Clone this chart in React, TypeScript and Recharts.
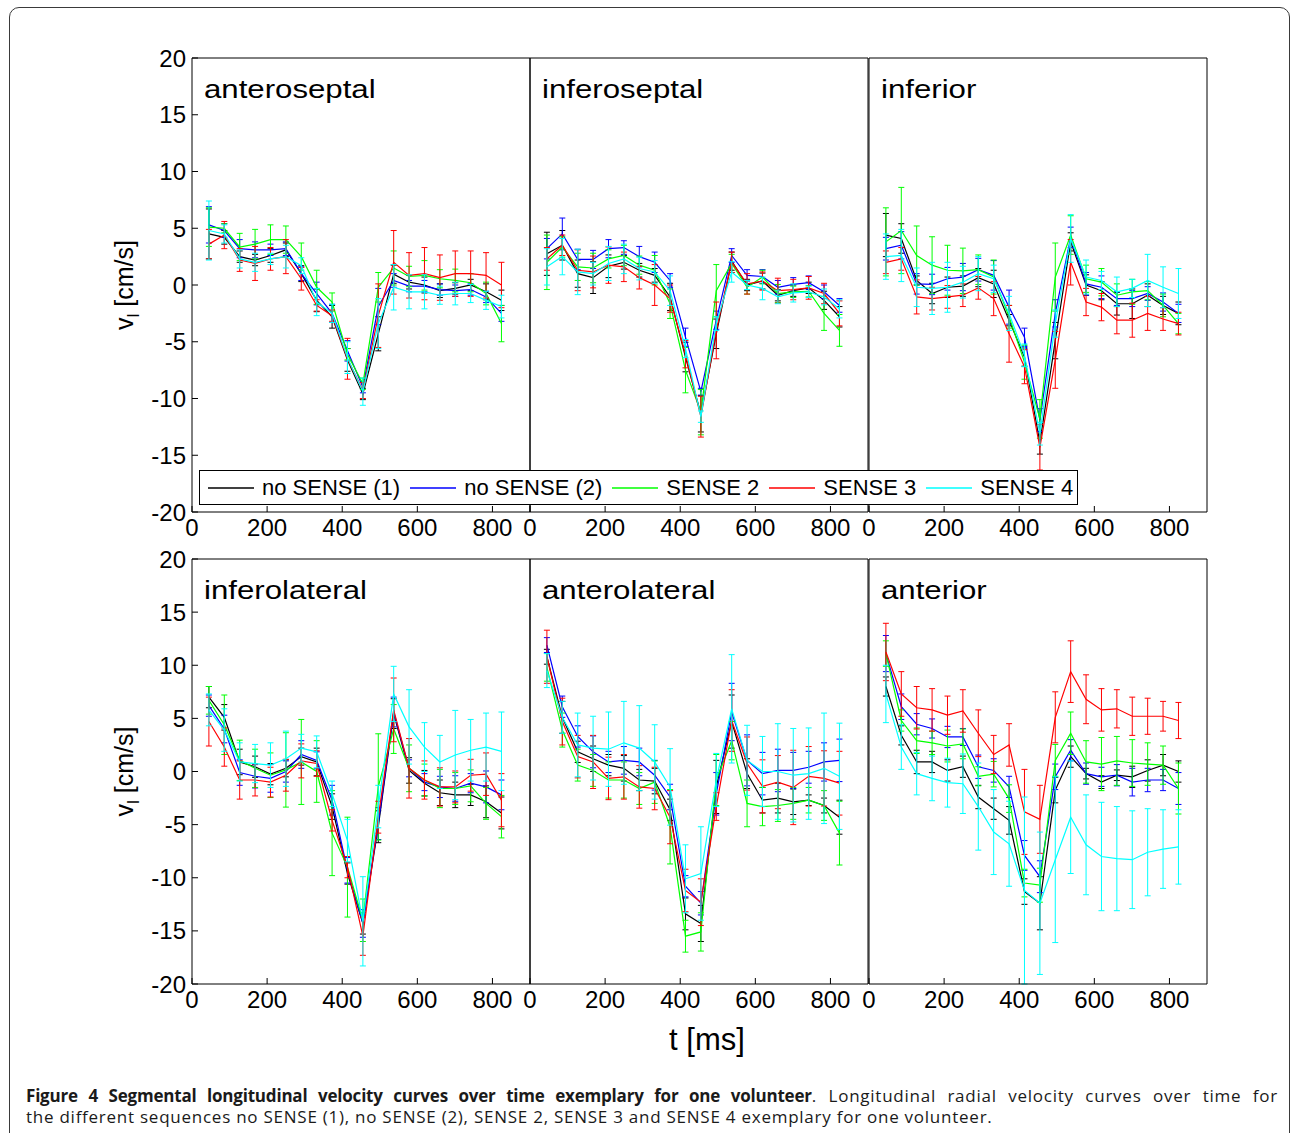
import { LineChart, Line, XAxis, YAxis, ErrorBar } from "recharts";

// sample times (ms), shared by all segments
const TIMES = [45, 86, 127, 168, 209, 250, 291, 332, 373, 414, 455, 496, 537, 578, 619, 660, 701, 742, 783, 824];

const SERIES = [
  { key: "ns1", name: "no SENSE (1)", color: "#000000" },
  { key: "ns2", name: "no SENSE (2)", color: "#0000ff" },
  { key: "s2", name: "SENSE 2", color: "#00ff00" },
  { key: "s3", name: "SENSE 3", color: "#ff0000" },
  { key: "s4", name: "SENSE 4", color: "#00ffff" },
];

const X_TICKS = [0, 200, 400, 600, 800];
const Y_TICKS = [-20, -15, -10, -5, 0, 5, 10, 15, 20];

// --- anteroseptal ---
const anteroseptalMean = {
  ns1: [4.5, 4.2, 2.5, 2.2, 2.6, 3.1, 1.0, -1.35, -2.8, -6.6, -9.6, -4.3, 0.95, 0.25, 0.0, -0.5, -0.3, 0.0, -0.6, -1.35],
  ns2: [5.3, 4.8, 3.2, 3.1, 3.1, 3.2, 1.0, -0.75, -2.5, -5.8, -9.0, -1.9, 0.4, -0.1, -0.1, -0.4, -0.5, -0.4, -1.05, -2.5],
  s2: [5.1, 5.0, 3.35, 3.6, 4.0, 4.0, 2.5, -0.2, -1.5, -6.1, -8.7, -0.2, 1.5, 0.75, 0.85, 0.55, 0.4, 0.2, -0.75, -3.4],
  s3: [3.6, 4.4, 2.2, 1.9, 2.3, 2.5, 0.55, -1.8, -2.7, -6.5, -9.3, -2.7, 2.0, 0.85, 1.0, 0.65, 1.0, 1.0, 0.85, 0.0],
  s4: [4.8, 4.5, 2.3, 2.0, 2.3, 2.5, 1.7, -1.5, -2.5, -6.4, -9.4, -3.4, -0.2, -0.6, -0.6, -0.9, -0.75, -0.75, -1.35, -1.9],
};
const anteroseptalErr = {
  ns1: [2.2, 0.6, 0.5, 0.5, 0.6, 0.6, 0.7, 1.0, 1.0, 1.0, 0.5, 1.5, 0.8, 0.6, 0.7, 0.6, 0.5, 0.5, 0.7, 0.9],
  ns2: [1.6, 0.6, 0.8, 0.7, 0.5, 0.6, 0.6, 1.0, 0.8, 0.9, 0.5, 1.6, 0.6, 0.5, 0.5, 0.5, 0.5, 0.5, 0.5, 0.7],
  s2: [1.7, 0.4, 1.2, 1.3, 1.3, 1.2, 1.2, 1.5, 0.8, 0.5, 0.5, 1.3, 1.5, 0.9, 1.3, 0.8, 1.0, 0.8, 1.0, 1.6],
  s3: [1.3, 1.2, 1.0, 1.5, 1.0, 1.5, 1.0, 0.5, 0.5, 1.8, 0.7, 2.8, 2.8, 2.0, 2.3, 2.0, 2.0, 2.0, 2.0, 2.0],
  s4: [2.6, 0.8, 0.8, 0.8, 0.5, 1.0, 0.7, 1.2, 0.8, 1.4, 1.2, 2.2, 2.0, 1.5, 1.5, 0.8, 1.0, 0.8, 0.8, 1.0],
};

// --- inferoseptal ---
const inferoseptalMean = {
  ns1: [2.75, 3.5, 1.0, 0.65, 1.65, 2.0, 1.3, 0.85, -1.05, -6.35, -11.35, -4.3, 2.1, 0.0, 0.35, -0.9, -0.5, -0.25, -1.35, -2.8],
  ns2: [3.2, 4.5, 2.25, 2.25, 3.2, 3.3, 2.5, 2.0, 0.4, -4.6, -9.4, -3.1, 2.6, 0.85, 0.75, -0.2, 0.05, 0.2, -0.6, -1.8],
  s2: [2.0, 3.35, 1.6, 1.5, 2.3, 2.6, 1.75, 1.3, -1.65, -7.5, -11.2, -0.5, 1.9, -0.2, 0.7, -0.75, -0.6, -0.55, -2.5, -4.0],
  s3: [2.3, 3.5, 1.3, 1.15, 1.75, 1.6, 0.65, 0.0, -1.2, -6.1, -11.6, -4.0, 2.0, 0.1, 0.35, -0.5, -0.4, -0.25, -0.75, -2.5],
  s4: [1.6, 2.5, 1.15, 1.0, 1.9, 2.3, 1.45, 1.15, -0.5, -5.6, -11.6, -3.4, 1.15, 0.0, -0.3, -1.05, -0.7, -0.6, -1.05, -2.1],
};
const inferoseptalErr = {
  ns1: [1.9, 1.3, 1.2, 1.4, 1.0, 0.6, 0.6, 0.6, 1.2, 1.3, 1.6, 1.3, 0.8, 0.5, 0.7, 0.5, 0.5, 0.5, 0.8, 0.9],
  ns2: [0.9, 1.4, 0.9, 0.8, 0.8, 0.6, 0.9, 0.9, 0.6, 0.8, 0.3, 0.8, 0.6, 0.5, 0.6, 0.6, 0.6, 0.6, 0.6, 0.6],
  s2: [2.4, 0.9, 1.2, 1.3, 0.8, 0.9, 0.8, 1.3, 1.3, 2.0, 2.0, 2.3, 0.8, 0.6, 0.6, 0.8, 0.5, 0.5, 1.5, 1.4],
  s3: [1.0, 0.9, 1.8, 1.4, 1.6, 1.3, 1.0, 1.8, 1.2, 1.2, 1.8, 2.5, 0.9, 0.9, 0.8, 1.1, 0.9, 1.0, 0.9, 1.1],
  s4: [1.6, 1.6, 2.0, 1.0, 1.5, 1.3, 1.0, 1.0, 1.3, 0.8, 0.5, 0.6, 0.9, 0.4, 1.0, 0.6, 0.8, 0.5, 0.7, 0.8],
};

// --- inferior ---
const inferiorMean = {
  ns1: [4.4, 4.1, 0.4, -0.75, -0.2, -0.1, 0.65, 0.1, -3.1, -6.35, -13.9, -4.9, 3.8, 0.0, -0.5, -1.65, -1.65, -0.9, -1.8, -2.5],
  ns2: [3.2, 3.5, 0.1, 0.05, 0.55, 0.7, 1.35, 0.85, -1.95, -4.6, -11.9, -2.5, 4.2, 0.1, -0.2, -1.2, -1.2, -0.75, -1.5, -2.5],
  s2: [3.8, 4.8, 2.6, 1.75, 1.3, 1.25, 1.35, 0.7, -2.8, -6.8, -11.8, 0.7, 4.4, 0.55, 0.25, -0.9, -0.6, -0.5, -1.8, -3.4],
  s3: [2.0, 2.3, -1.05, -1.2, -1.05, -0.9, -0.25, -1.2, -4.3, -7.2, -14.3, -6.6, 2.0, -1.5, -1.95, -3.1, -3.1, -2.5, -3.0, -3.4],
  s4: [2.5, 2.6, -0.2, -0.3, -0.2, 0.25, 1.0, 0.55, -2.5, -6.2, -13.1, -3.4, 4.1, 0.7, 0.4, -0.6, -0.3, 0.4, -0.2, -0.75],
};
const inferiorErr = {
  ns1: [1.9, 1.3, 0.4, 0.9, 0.9, 0.9, 0.8, 1.2, 0.5, 0.8, 1.0, 1.6, 0.8, 0.9, 0.8, 1.0, 1.3, 1.0, 0.8, 1.0],
  ns2: [1.0, 1.2, 0.9, 0.9, 1.0, 1.2, 1.0, 1.3, 1.5, 0.8, 1.0, 1.2, 0.9, 1.0, 1.0, 0.6, 0.7, 0.6, 0.8, 0.8],
  s2: [3.0, 3.8, 2.6, 2.5, 2.2, 2.0, 1.3, 1.5, 1.0, 1.5, 1.7, 3.0, 1.7, 1.2, 1.2, 1.0, 1.1, 0.8, 1.0, 0.9],
  s3: [1.0, 1.0, 1.5, 1.0, 1.0, 1.0, 1.0, 1.5, 2.5, 1.5, 2.0, 2.5, 2.0, 1.2, 1.2, 1.2, 1.5, 1.5, 1.0, 1.0],
  s4: [2.0, 2.3, 1.7, 2.3, 2.2, 1.4, 1.5, 1.2, 1.5, 1.0, 1.0, 1.2, 2.1, 1.5, 0.8, 1.3, 0.8, 2.3, 1.8, 2.2],
};

// --- inferolateral ---
const inferolateralMean = {
  ns1: [7.0, 5.1, 0.9, 0.45, -0.25, 0.3, 1.4, 0.9, -3.3, -9.6, -14.3, -5.2, 5.45, 0.1, -1.1, -2.0, -2.2, -2.2, -2.85, -3.9],
  ns2: [6.2, 4.0, -0.1, -0.45, -0.65, 0.0, 1.6, 1.05, -2.7, -9.3, -14.3, -4.9, 5.6, 0.3, -1.0, -1.45, -1.6, -1.1, -1.45, -2.2],
  s2: [6.7, 4.4, 1.05, 0.3, -0.35, 0.15, 0.9, 0.0, -5.8, -9.0, -14.0, -1.45, 4.0, 0.3, -0.8, -1.6, -1.6, -1.35, -3.0, -4.25],
  s3: [4.7, 2.3, -0.8, -0.8, -1.0, -0.35, 1.0, 0.75, -4.6, -9.0, -15.5, -4.3, 5.8, 0.3, -0.8, -1.45, -1.45, -0.35, -0.25, -2.7],
  s4: [5.8, 3.9, 0.9, 0.75, 0.6, 1.2, 2.2, 1.85, -2.1, -6.5, -14.1, -3.3, 7.3, 4.2, 2.3, 0.9, 1.55, 2.0, 2.3, 1.9],
};
const inferolateralErr = {
  ns1: [1.0, 1.2, 1.2, 1.0, 1.0, 0.8, 0.8, 1.3, 1.2, 1.0, 1.0, 1.5, 1.4, 1.2, 1.2, 1.2, 1.2, 1.0, 1.5, 1.5],
  ns2: [1.0, 1.3, 1.2, 1.1, 1.3, 1.0, 1.3, 0.8, 1.4, 1.2, 1.3, 1.5, 1.4, 0.8, 0.8, 1.0, 1.2, 0.9, 1.5, 1.4],
  s2: [1.3, 2.8, 1.9, 1.8, 2.1, 3.5, 4.0, 2.9, 4.0, 4.7, 2.0, 5.0, 2.3, 2.2, 1.5, 1.8, 1.5, 1.5, 1.5, 2.0],
  s3: [2.3, 1.8, 1.8, 1.5, 1.4, 1.5, 1.6, 1.2, 1.0, 1.0, 1.8, 1.5, 3.0, 2.8, 1.8, 1.8, 1.5, 1.5, 2.0, 2.5],
  s4: [1.5, 2.0, 1.8, 1.8, 2.1, 2.6, 1.3, 1.5, 1.2, 2.0, 4.2, 2.0, 2.6, 3.5, 2.3, 2.5, 4.2, 2.9, 3.2, 3.7],
};

// --- anterolateral ---
const anterolateralMean = {
  ns1: [10.8, 5.1, 1.85, 1.2, 0.6, 0.3, -0.8, -0.9, -3.6, -13.4, -14.3, -1.45, 4.7, -0.2, -2.7, -2.5, -2.85, -2.7, -3.2, -4.3],
  ns2: [11.9, 6.1, 3.3, 1.85, 0.9, 1.05, 0.9, -0.35, -2.4, -10.8, -12.4, -2.1, 5.6, 1.05, -0.2, 0.1, 0.1, 0.4, 0.9, 1.05],
  s2: [9.8, 3.9, 0.6, 0.1, -0.8, -0.8, -1.6, -1.0, -5.2, -15.5, -15.1, -0.8, 2.9, -3.0, -3.3, -3.2, -3.0, -2.7, -3.2, -5.8],
  s3: [10.8, 4.7, 1.4, 0.9, -0.65, -0.5, -1.45, -1.6, -4.3, -11.2, -12.3, -3.3, 4.8, 0.75, -1.4, -1.0, -1.5, -0.45, -0.65, -1.1],
  s4: [9.5, 5.1, 2.5, 2.2, 2.1, 2.7, 2.2, 0.9, -1.45, -10.1, -9.6, -0.8, 5.9, 1.05, 0.0, 0.0, -0.35, -0.2, 0.3, -0.45],
};
const anterolateralErr = {
  ns1: [0.7, 1.5, 1.0, 1.2, 1.0, 1.2, 1.0, 1.2, 1.0, 1.5, 1.7, 2.5, 2.5, 1.4, 1.2, 1.4, 1.2, 0.5, 0.7, 1.6],
  ns2: [0.7, 1.0, 1.0, 1.5, 1.0, 1.3, 1.3, 1.4, 1.2, 1.0, 1.1, 2.0, 2.7, 2.4, 2.0, 2.0, 1.7, 1.5, 1.8, 2.0],
  s2: [1.3, 1.6, 1.5, 1.5, 1.7, 1.7, 1.5, 2.0, 3.5, 1.5, 1.8, 2.4, 1.8, 2.2, 1.8, 1.5, 1.5, 1.2, 1.4, 3.0],
  s3: [2.5, 2.2, 2.0, 2.5, 2.0, 2.1, 2.0, 2.0, 2.5, 2.0, 2.2, 1.3, 2.9, 2.5, 2.5, 2.5, 3.5, 2.8, 2.6, 3.0],
  s4: [1.6, 1.5, 3.0, 3.0, 3.5, 3.9, 4.0, 3.5, 3.6, 3.2, 4.4, 2.5, 5.1, 3.3, 3.3, 4.5, 4.4, 4.3, 5.2, 5.0],
};

// --- anterior ---
const anteriorMean = {
  ns1: [8.0, 3.4, 0.9, 0.9, 0.1, 0.45, -2.4, -3.5, -4.6, -11.3, -12.4, -1.75, 1.4, -0.2, -1.0, -0.35, -0.5, 0.1, 0.6, 0.0],
  ns2: [11.1, 6.1, 4.45, 4.05, 3.25, 3.25, 0.45, 0.1, -1.45, -7.9, -9.9, -0.5, 2.0, -0.2, -0.5, -0.35, -1.0, -0.8, -0.8, -1.6],
  s2: [11.1, 4.8, 2.9, 2.7, 2.4, 2.6, -0.45, -0.25, -2.55, -10.5, -10.7, 1.05, 3.6, 0.9, 0.7, 1.0, 0.8, 0.7, 0.6, -1.6],
  s3: [11.25, 7.3, 6.0, 5.8, 5.3, 5.7, 3.6, 1.6, 2.5, -3.8, -4.5, 5.1, 9.4, 6.8, 5.8, 5.9, 5.2, 5.2, 5.2, 4.8],
  s4: [7.3, 2.3, -0.2, -0.65, -1.05, -1.15, -3.3, -5.7, -6.8, -11.2, -12.4, -8.3, -4.3, -6.9, -8.0, -8.2, -8.3, -7.6, -7.3, -7.1],
};
const anteriorErr = {
  ns1: [0.9, 0.9, 1.1, 1.0, 1.0, 1.0, 1.1, 1.0, 1.3, 1.2, 2.5, 1.2, 1.0, 0.5, 0.6, 0.5, 1.0, 1.0, 1.0, 1.0],
  ns2: [1.7, 1.2, 1.0, 0.9, 1.0, 0.8, 1.1, 1.1, 1.0, 1.4, 1.5, 1.2, 1.0, 1.0, 0.9, 1.0, 1.3, 1.1, 1.0, 1.5],
  s2: [1.2, 1.0, 1.2, 1.1, 1.5, 1.4, 0.9, 1.2, 1.3, 1.3, 1.6, 1.5, 2.0, 2.0, 2.5, 2.3, 2.2, 2.0, 1.8, 2.4],
  s3: [2.7, 2.1, 2.0, 2.0, 1.8, 2.0, 2.2, 1.8, 2.0, 4.0, 3.2, 2.4, 2.9, 2.3, 2.0, 1.8, 1.8, 1.7, 1.4, 1.7],
  s4: [2.7, 2.1, 2.0, 2.1, 2.3, 2.8, 4.1, 4.0, 4.0, 8.8, 6.7, 7.8, 5.3, 4.7, 5.1, 4.9, 4.6, 4.1, 3.7, 3.5],
};

type SeriesValues = Record<string, number[]>;

const PANELS = [
  { title: "anteroseptal", mean: anteroseptalMean, err: anteroseptalErr },
  { title: "inferoseptal", mean: inferoseptalMean, err: inferoseptalErr },
  { title: "inferior", mean: inferiorMean, err: inferiorErr },
  { title: "inferolateral", mean: inferolateralMean, err: inferolateralErr },
  { title: "anterolateral", mean: anterolateralMean, err: anterolateralErr },
  { title: "anterior", mean: anteriorMean, err: anteriorErr },
];

// layout (px) of the plot boxes
const COL_LEFT = [192, 530, 869];
const ROW_TOP = [58, 559];
const ROW_HEIGHT = [454, 425];
const PLOT_W = 338;
const ML = 80; // left y-axis width
const MR = 10;
const MT = 20;
const MB = 50; // bottom x-axis height
const EDGE = 1; // size of the label-less top / right axes

const FONT = '"Liberation Sans", Arial, Helvetica, sans-serif';
const tickStyle = { fontSize: 24, fill: "#000", fontFamily: FONT };

interface PanelProps {
  mean: SeriesValues;
  err: SeriesValues;
  left: number;
  top: number;
  height: number;
  showY: boolean;
}

function Panel({ mean, err, left, top, height, showY }: PanelProps) {
  const data = TIMES.map((t, i) => {
    const row: Record<string, number> = { t };
    SERIES.forEach((s) => {
      row[s.key] = mean[s.key][i];
      row[s.key + "Err"] = err[s.key][i];
    });
    return row;
  });

  return (
    <div style={{ position: "absolute", left: left - ML, top: top - MT }}>
      <LineChart
        width={PLOT_W + ML + MR}
        height={height + MT + MB}
        data={data}
        margin={{ top: MT - EDGE, right: MR - EDGE, bottom: 0, left: 0 }}
      >
        <XAxis
          xAxisId="b"
          dataKey="t"
          type="number"
          domain={[0, 900]}
          ticks={X_TICKS}
          interval={0}
          height={MB}
          tickSize={-6}
          tickMargin={13}
          tick={tickStyle}
          stroke="#000"
          allowDataOverflow
        />
        <XAxis
          xAxisId="top"
          dataKey="t"
          orientation="top"
          type="number"
          domain={[0, 900]}
          ticks={X_TICKS}
          interval={0}
          height={EDGE}
          tickSize={-6}
          tick={false}
          stroke="#000"
          allowDataOverflow
        />
        <YAxis
          yAxisId="l"
          type="number"
          domain={[-20, 20]}
          ticks={Y_TICKS}
          interval={0}
          width={ML}
          tickSize={-6}
          tickMargin={12}
          tick={showY ? tickStyle : false}
          stroke="#000"
          allowDataOverflow
        />
        <YAxis
          yAxisId="r"
          orientation="right"
          type="number"
          domain={[-20, 20]}
          ticks={Y_TICKS}
          interval={0}
          width={EDGE}
          tickSize={-6}
          tick={false}
          stroke="#000"
          allowDataOverflow
        />
        {/* invisible series so the top / right axes are laid out */}
        <Line
          xAxisId="top"
          yAxisId="r"
          dataKey="ns1"
          stroke="none"
          dot={false}
          activeDot={false}
          legendType="none"
          isAnimationActive={false}
        />
        {SERIES.map((s) => (
          <Line
            key={s.key}
            xAxisId="b"
            yAxisId="l"
            type="linear"
            dataKey={s.key}
            stroke={s.color}
            strokeWidth={1.2}
            dot={false}
            isAnimationActive={false}
          >
            <ErrorBar
              dataKey={s.key + "Err"}
              direction="y"
              width={3}
              stroke={s.color}
              strokeWidth={1}
              isAnimationActive={false}
            />
          </Line>
        ))}
      </LineChart>
    </div>
  );
}

function Legend() {
  return (
    <div
      style={{
        position: "absolute",
        left: 199,
        top: 470,
        width: 879,
        height: 35,
        boxSizing: "border-box",
        border: "1px solid #000",
        background: "#fff",
        display: "flex",
        alignItems: "center",
        paddingLeft: 8,
        fontFamily: FONT,
        fontSize: 22,
        color: "#000",
      }}
    >
      {SERIES.map((s) => (
        <div key={s.key} style={{ display: "flex", alignItems: "center", marginRight: 10 }}>
          <svg width={46} height={4} style={{ marginRight: 8, display: "block" }}>
            <line x1={0} y1={2} x2={46} y2={2} stroke={s.color} strokeWidth={1.5} />
          </svg>
          <span style={{ whiteSpace: "nowrap", lineHeight: "24px" }}>{s.name}</span>
        </div>
      ))}
    </div>
  );
}

export default function App() {
  return (
    <div
      style={{
        position: "absolute",
        left: 0,
        top: 0,
        width: 1290,
        height: 1133,
        overflow: "hidden",
        background: "#fff",
      }}
    >
      {/* outer frame */}
      <div
        style={{
          position: "absolute",
          left: 9,
          top: 7,
          width: 1281,
          height: 1200,
          boxSizing: "border-box",
          border: "1.5px solid #3a3a3a",
          borderRadius: 10,
        }}
      />

      {PANELS.map((p, i) => {
        const col = i % 3;
        const row = Math.floor(i / 3);
        return (
          <Panel
            key={p.title}
            mean={p.mean}
            err={p.err}
            left={COL_LEFT[col]}
            top={ROW_TOP[row]}
            height={ROW_HEIGHT[row]}
            showY={col === 0}
          />
        );
      })}

      {/* titles and axis labels */}
      <svg
        width={1290}
        height={1133}
        style={{ position: "absolute", left: 0, top: 0, pointerEvents: "none" }}
        fontFamily={FONT}
        fill="#000"
      >
        {PANELS.map((p, i) => {
          const col = i % 3;
          const row = Math.floor(i / 3);
          const x = COL_LEFT[col] + 12;
          const y = ROW_TOP[row] + 40;
          return (
            <text key={p.title} fontSize={26} transform={`translate(${x},${y}) scale(1.2,1)`}>
              {p.title}
            </text>
          );
        })}
        {ROW_TOP.map((t, r) => (
          <text
            key={r}
            fontSize={25}
            textAnchor="middle"
            transform={`translate(133,${t + ROW_HEIGHT[r] / 2}) rotate(-90)`}
          >
            v
            <tspan fontSize={17} dy={6}>l</tspan>
            <tspan dy={-6}> [cm/s]</tspan>
          </text>
        ))}
        <text x={707} y={1050} fontSize={31} textAnchor="middle">
          t [ms]
        </text>
      </svg>

      <Legend />

      {/* caption */}
      <div
        style={{
          position: "absolute",
          left: 26,
          top: 1085,
          width: 1252,
          fontFamily: '"Open Sans", sans-serif',
          fontSize: 17,
          lineHeight: "21px",
          color: "#1a1a1a",
        }}
      >
        <div style={{ textAlign: "justify", textAlignLast: "justify", whiteSpace: "nowrap", letterSpacing: 0.75 }}>
          <b style={{ letterSpacing: -0.2 }}>
            Figure 4 Segmental longitudinal velocity curves over time exemplary for one volunteer
          </b>
          . Longitudinal radial velocity curves over time for
        </div>
        <div style={{ letterSpacing: 0.75 }}>
          the different sequences no SENSE (1), no SENSE (2), SENSE 2, SENSE 3 and SENSE 4 exemplary for one volunteer.
        </div>
      </div>
    </div>
  );
}
